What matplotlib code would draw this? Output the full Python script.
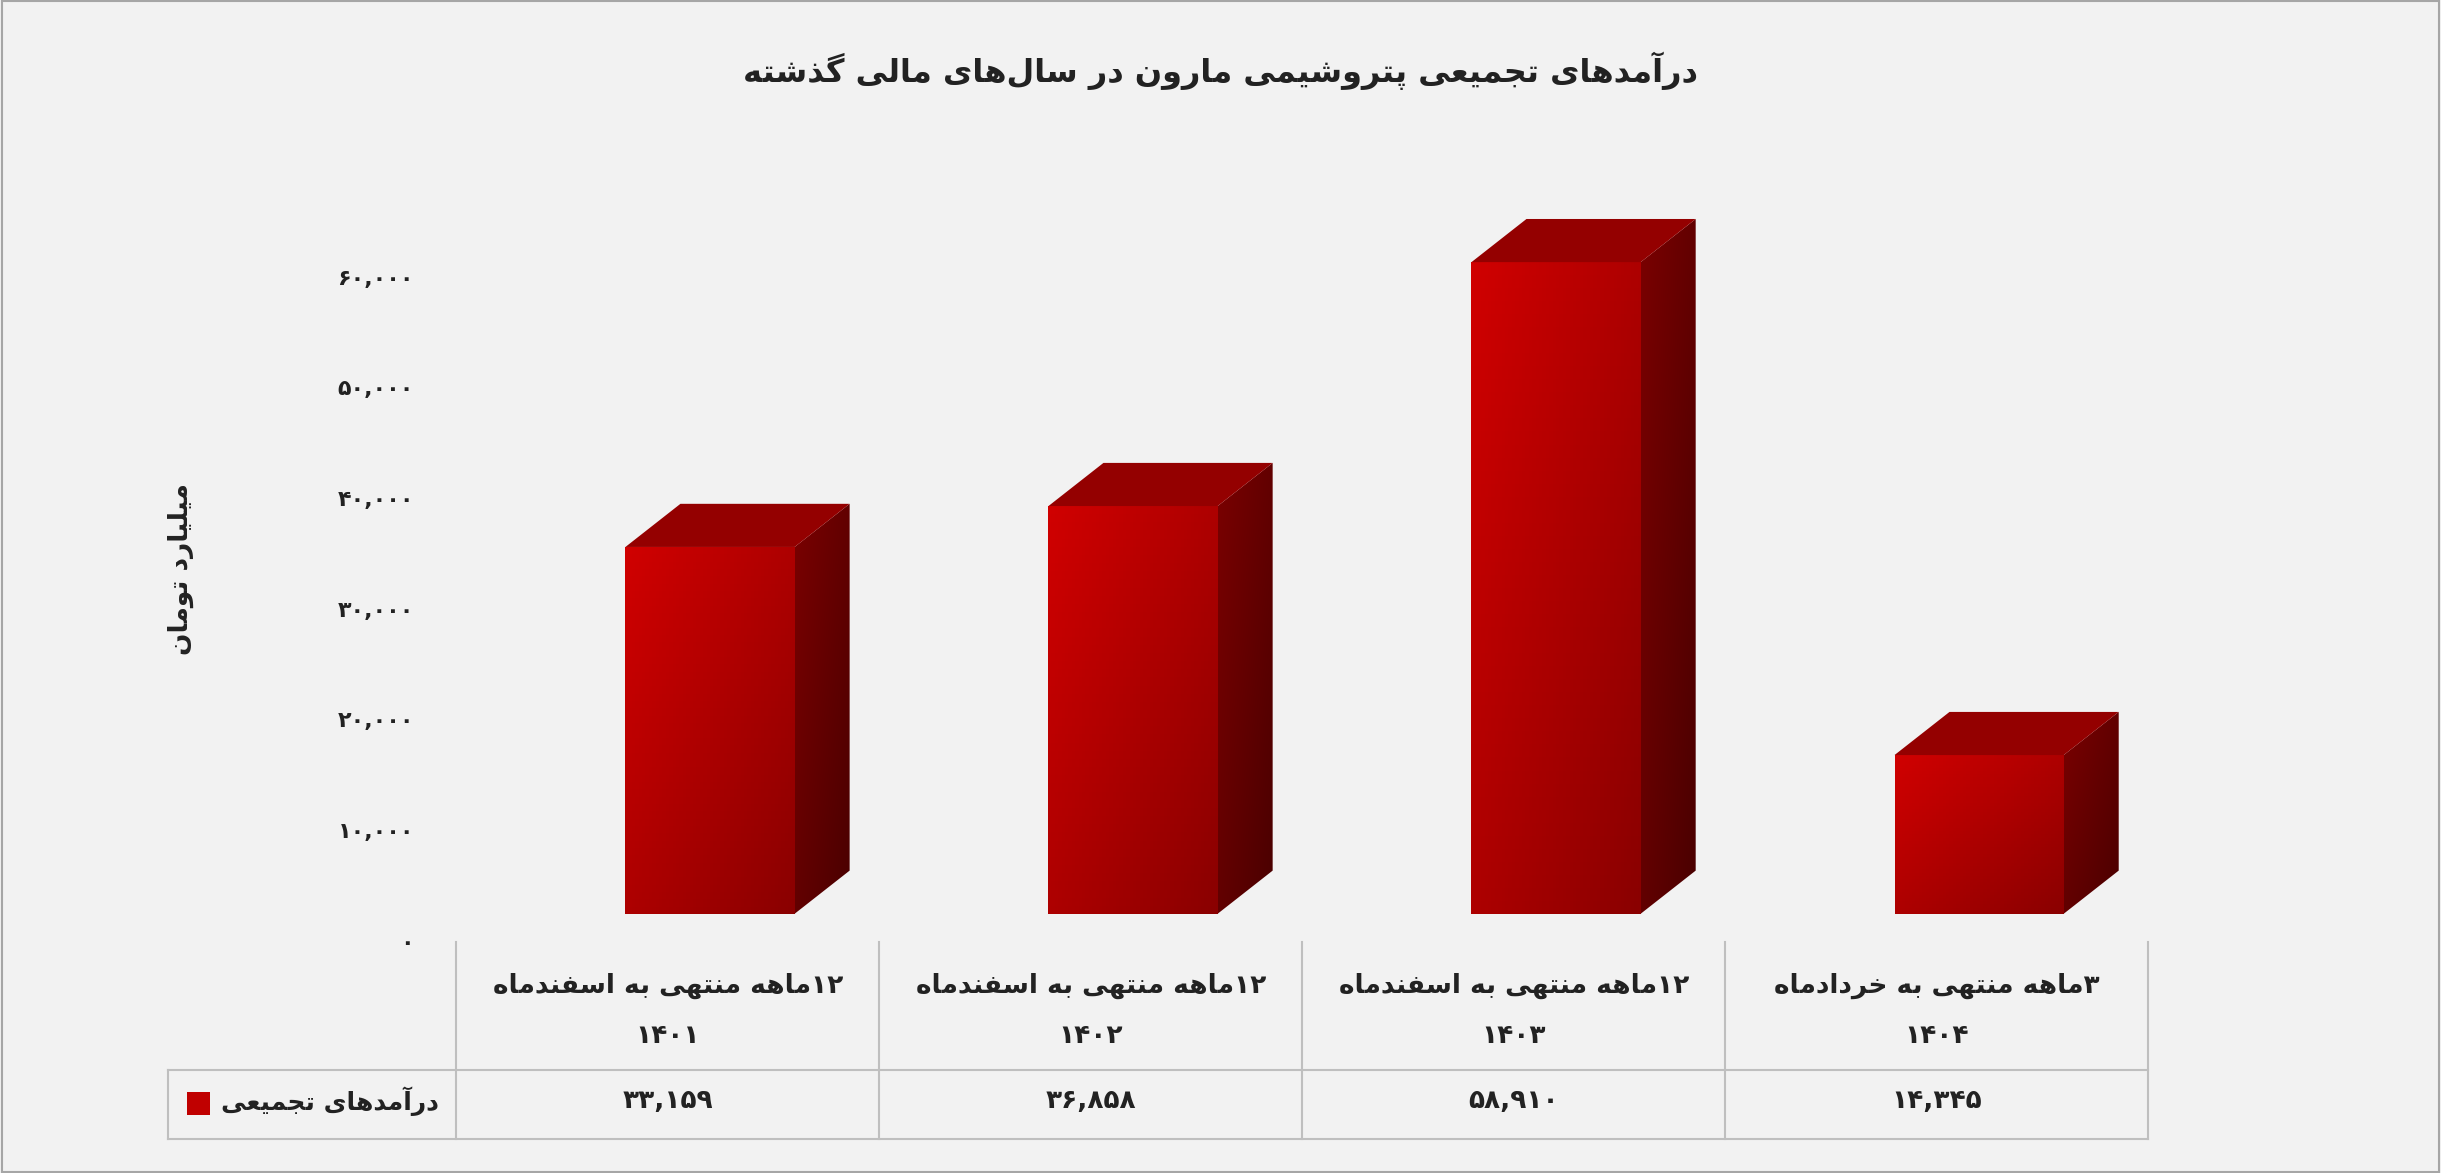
import matplotlib.pyplot as plt
import numpy as np
from matplotlib.patches import Polygon, Rectangle
from matplotlib.lines import Line2D

plt.rcParams["font.family"] = ["DejaVu Sans"]
plt.rcParams["font.weight"] = "bold"

TITLE = "درآمدهای تجمیعی پتروشیمی مارون در سال‌های مالی گذشته"
Y_LABEL = "میلیارد تومان"
SERIES_NAME = "درآمدهای تجمیعی"
CATEGORIES = [
    ("۱۲ماهه منتهی به اسفندماه", "۱۴۰۱"),
    ("۱۲ماهه منتهی به اسفندماه", "۱۴۰۲"),
    ("۱۲ماهه منتهی به اسفندماه", "۱۴۰۳"),
    ("۳ماهه منتهی به خردادماه", "۱۴۰۴"),
]
VALUES = [33159, 36858, 58910, 14345]
Y_TICKS = [0, 10000, 20000, 30000, 40000, 50000, 60000]

# isolated, final, initial, medial
FORMS = {
    "ا": (0xFE8D, 0xFE8E), "آ": (0xFE81, 0xFE82), "د": (0xFEA9, 0xFEAA),
    "ذ": (0xFEAB, 0xFEAC), "ر": (0xFEAD, 0xFEAE), "ز": (0xFEAF, 0xFEB0),
    "و": (0xFEED, 0xFEEE),
    "ب": (0xFE8F, 0xFE90, 0xFE91, 0xFE92), "پ": (0xFB56, 0xFB57, 0xFB58, 0xFB59),
    "ت": (0xFE95, 0xFE96, 0xFE97, 0xFE98), "ج": (0xFE9D, 0xFE9E, 0xFE9F, 0xFEA0),
    "خ": (0xFEA5, 0xFEA6, 0xFEA7, 0xFEA8), "س": (0xFEB1, 0xFEB2, 0xFEB3, 0xFEB4),
    "ش": (0xFEB5, 0xFEB6, 0xFEB7, 0xFEB8), "ف": (0xFED1, 0xFED2, 0xFED3, 0xFED4),
    "ق": (0xFED5, 0xFED6, 0xFED7, 0xFED8), "ک": (0xFB8E, 0xFB8F, 0xFB90, 0xFB91),
    "گ": (0xFB92, 0xFB93, 0xFB94, 0xFB95), "ل": (0xFEDD, 0xFEDE, 0xFEDF, 0xFEE0),
    "م": (0xFEE1, 0xFEE2, 0xFEE3, 0xFEE4), "ن": (0xFEE5, 0xFEE6, 0xFEE7, 0xFEE8),
    "ه": (0xFEE9, 0xFEEA, 0xFEEB, 0xFEEC), "ی": (0xFBFC, 0xFBFD, 0xFBFE, 0xFBFF),
    "ع": (0xFEC9, 0xFECA, 0xFECB, 0xFECC),
}
DIGITS = "۰۱۲۳۴۵۶۷۸۹,"


def fa(text):
    out = []
    for i, c in enumerate(text):
        if c not in FORMS:
            if c != "\u200c":
                out.append(c)
            continue
        prev = text[i - 1] if i > 0 else ""
        nxt = text[i + 1] if i + 1 < len(text) else ""
        j_prev = prev in FORMS and len(FORMS[prev]) == 4
        j_next = len(FORMS[c]) == 4 and nxt in FORMS
        f = FORMS[c]
        if j_prev and j_next:
            code = f[3]
        elif j_prev:
            code = f[1]
        elif j_next:
            code = f[2]
        else:
            code = f[0]
        out.append(chr(code))
    vis = "".join(out)[::-1]
    # keep digit runs left to right
    res, run = "", ""
    for c in vis:
        if c in DIGITS:
            run += c
        else:
            res += run[::-1] + c
            run = ""
    return res + run[::-1]


def fa_num(v):
    s = f"{v:,}"
    return s.translate(str.maketrans("0123456789", "۰۱۲۳۴۵۶۷۸۹"))


def gradient_patch(ax, verts, c1, c2):
    poly = Polygon(verts, closed=True, facecolor="none", edgecolor="none")
    ax.add_patch(poly)
    xs = [v[0] for v in verts]
    ys = [v[1] for v in verts]
    # bright at top-left, dark at bottom-right
    g = np.add.outer(np.linspace(0, 1, 50), np.linspace(0, 1, 50)) / 2
    rgb = np.array(plt.matplotlib.colors.to_rgb(c1)) * (1 - g[..., None]) + \
        np.array(plt.matplotlib.colors.to_rgb(c2)) * g[..., None]
    im = ax.imshow(rgb, extent=(min(xs), max(xs), min(ys), max(ys)),
                   aspect="auto", origin="upper", zorder=2)
    im.set_clip_path(poly)


fig = plt.figure(figsize=(24.41, 11.73), dpi=100)
fig.patch.set_facecolor("#f2f2f2")
fig.add_artist(Rectangle((0.001, 0.001), 0.998, 0.998, transform=fig.transFigure,
                         fill=False, edgecolor="#a6a6a6", linewidth=1.5))

ax = fig.add_axes([0.1869, 0.1965, 0.6932, 0.0943 * 7])
ax.set_facecolor("none")
ax.set_xlim(0, 4)
ax.set_ylim(0, 70000)
for s in ax.spines.values():
    s.set_visible(False)
ax.set_xticks([])
ax.set_yticks([])

off, dx, dy, w = 2600, 0.13, 3900, 0.40
for i, v in enumerate(VALUES):
    x0 = i + 0.40
    x1 = x0 + w
    top = v + off
    gradient_patch(ax, [(x0, off), (x1, off), (x1, top), (x0, top)], "#d00000", "#8a0000")
    gradient_patch(ax, [(x1, off), (x1 + dx, off + dy), (x1 + dx, top + dy), (x1, top)],
                   "#7a0000", "#4a0000")
    ax.add_patch(Polygon([(x0, top), (x1, top), (x1 + dx, top + dy), (x0 + dx, top + dy)],
                         closed=True, facecolor="#940000", edgecolor="none", zorder=3))

for t in Y_TICKS:
    ax.text(-0.1, t, fa_num(t), ha="right", va="center", fontsize=16, color="#222222")

fig.text(0.5, 0.94, fa(TITLE), ha="center", va="center", fontsize=23, color="#222222")
fig.text(0.074, 0.515, fa(Y_LABEL), ha="center", va="center", rotation=90,
         fontsize=19, color="#222222")

# data table
lc = "#bfbfbf"
col_x = [0.1869 + 0.1733 * k for k in range(5)]
y_top, y_mid, y_bot = 1 - 605 / 753, 1 - 687 / 753, 1 - 731 / 753
x_left = 108 / 1568
for x in col_x:
    fig.add_artist(Line2D([x, x], [y_bot, y_top], color=lc, lw=1.5))
fig.add_artist(Line2D([x_left, x_left], [y_bot, y_mid], color=lc, lw=1.5))
fig.add_artist(Line2D([x_left, col_x[-1]], [y_mid, y_mid], color=lc, lw=1.5))
fig.add_artist(Line2D([x_left, col_x[-1]], [y_bot, y_bot], color=lc, lw=1.5))

for i, (line1, line2) in enumerate(CATEGORIES):
    cx = (col_x[i] + col_x[i + 1]) / 2
    fig.text(cx, 1 - 633 / 753, fa(line1), ha="center", va="center", fontsize=19, color="#222222")
    fig.text(cx, 1 - 665 / 753, line2, ha="center", va="center", fontsize=19, color="#222222")
    fig.text(cx, 1 - 707 / 753, fa_num(VALUES[i]), ha="center", va="center",
             fontsize=19, color="#222222")

fig.text(0.180, 1 - 707 / 753, fa(SERIES_NAME), ha="right", va="center", fontsize=18, color="#222222")
fig.add_artist(Rectangle((120 / 1568, 1 - 716 / 753), 15 / 1568, 15 / 753,
                         transform=fig.transFigure, facecolor="#c00000", edgecolor="none"))

fig.savefig("out.png", dpi=100, facecolor=fig.get_facecolor())
